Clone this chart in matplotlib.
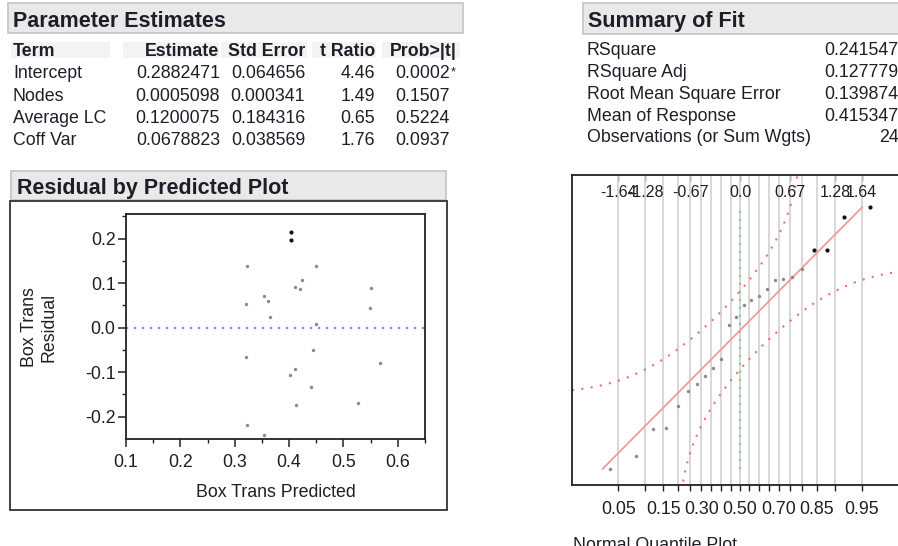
import matplotlib
matplotlib.use("Agg")
import matplotlib.pyplot as plt
from matplotlib.patches import Rectangle
import matplotlib.transforms as mtransforms
import numpy as np
from statistics import NormalDist

plt.rcParams['font.family'] = ['Liberation Sans', 'DejaVu Sans']

# ---------------- data ----------------
param_terms = ["Intercept", "Nodes", "Average LC", "Coff Var"]
param_estimate = ["0.2882471", "0.0005098", "0.1200075", "0.0678823"]
param_stderr = ["0.064656", "0.000341", "0.184316", "0.038569"]
param_tratio = ["4.46", "1.49", "0.65", "1.76"]
param_prob = ["0.0002", "0.1507", "0.5224", "0.0937"]
param_signif = [True, False, False, False]
param_headers = ["Term", "Estimate", "Std Error", "t Ratio", "Prob>|t|"]

fit_labels = ["RSquare", "RSquare Adj", "Root Mean Square Error",
              "Mean of Response", "Observations (or Sum Wgts)"]
fit_values = ["0.241547", "0.127779", "0.139874", "0.415347", "24"]

predicted = [0.404, 0.404, 0.323, 0.450, 0.423, 0.411, 0.420, 0.551,
             0.354, 0.362, 0.320, 0.548, 0.364, 0.450, 0.320, 0.444,
             0.568, 0.411, 0.401, 0.441, 0.527, 0.413, 0.323, 0.353]
residual = [0.214, 0.196, 0.139, 0.139, 0.106, 0.092, 0.087, 0.089,
            0.072, 0.059, 0.052, 0.043, 0.023, 0.009, -0.067, -0.050,
            -0.080, -0.094, -0.107, -0.133, -0.170, -0.173, -0.219, -0.242]
residual_dark = [True, True] + [False] * 22
quantile_dark_top = 4

top_quantile_probs = [0.05, 0.10, 0.25, 0.50, 0.75, 0.90, 0.95]
top_quantile_labels = ["-1.64", "-1.28", "-0.67", "0.0", "0.67", "1.28", "1.64"]
bottom_prob_values = [0.05, 0.15, 0.30, 0.50, 0.70, 0.85, 0.95]
bottom_prob_labels = ["0.05", "0.15", "0.30", "0.50", "0.70", "0.85", "0.95"]
prob_grid = [0.05, 0.10, 0.15, 0.20, 0.25, 0.30, 0.35, 0.40, 0.45, 0.50,
             0.55, 0.60, 0.65, 0.70, 0.75, 0.80, 0.85, 0.90, 0.95]
band_D = 0.2

# ---------------- figure ----------------
W, H = 898, 546
fig = plt.figure(figsize=(W / 100, H / 100), dpi=100)
TXT = "#1e1e28"


def fx(x):
    return x / W


def fy(y):
    return 1 - y / H


def header_box(x0, y0, x1, y1, title, tx, tbase):
    fig.patches.append(Rectangle((fx(x0), fy(y1)), (x1 - x0) / W, (y1 - y0) / H,
                                 transform=fig.transFigure, facecolor="#e9e9e9",
                                 edgecolor="#c4c4c4", lw=1.2))
    fig.text(fx(tx), fy(tbase), title, fontsize=15.5, fontweight="bold",
             color=TXT, ha="left", va="baseline")


FS = 12.8
# Parameter Estimates
header_box(8, 3, 463, 33, "Parameter Estimates", 13, 26.7)
cell_bg = [(11, 110), (123, 219), (221, 307), (312, 376), (382, 460)]
for (a, b) in cell_bg:
    fig.patches.append(Rectangle((fx(a), fy(58)), (b - a) / W, 16 / H,
                                 transform=fig.transFigure, facecolor="#f3f3f3",
                                 edgecolor="none"))
col_right = [None, 219, 305, 375, 457]
hdr_base = 56.5
fig.text(fx(13), fy(hdr_base), param_headers[0], fontsize=FS, fontweight="bold",
         color=TXT, ha="left", va="baseline")
for h, xr in zip(param_headers[1:], col_right[1:]):
    fig.text(fx(xr), fy(hdr_base), h, fontsize=FS, fontweight="bold",
             color=TXT, ha="right", va="baseline")
row_base = [78, 101, 123, 145]
for i, yb in enumerate(row_base):
    fig.text(fx(13), fy(yb), param_terms[i], fontsize=FS, color=TXT, ha="left", va="baseline")
    fig.text(fx(220), fy(yb), param_estimate[i], fontsize=FS, color=TXT, ha="right", va="baseline")
    fig.text(fx(305), fy(yb), param_stderr[i], fontsize=FS, color=TXT, ha="right", va="baseline")
    fig.text(fx(375), fy(yb), param_tratio[i], fontsize=FS, color=TXT, ha="right", va="baseline")
    fig.text(fx(450), fy(yb), param_prob[i], fontsize=FS, color=TXT, ha="right", va="baseline")
    if param_signif[i]:
        fig.text(fx(450.5), fy(yb - 3), "*", fontsize=9, color=TXT, ha="left", va="baseline")

# Summary of Fit
header_box(583, 3, 905, 34, "Summary of Fit", 588, 26.7)
fit_base = [55, 77, 99, 121, 142.5]
for lab, val, yb in zip(fit_labels, fit_values, fit_base):
    fig.text(fx(587), fy(yb), lab, fontsize=FS, color=TXT, ha="left", va="baseline")
    fig.text(fx(898.5), fy(yb), val, fontsize=FS, color=TXT, ha="right", va="baseline")

# Residual by Predicted Plot
header_box(11, 171, 446, 200, "Residual by Predicted Plot", 17, 194.3)
fig.patches.append(Rectangle((fx(10), fy(510)), 437 / W, 309 / H,
                             transform=fig.transFigure, facecolor="none",
                             edgecolor="#333333", lw=1.3))

axr = fig.add_axes([fx(126), fy(439), (425 - 126) / W, (439 - 214) / H])
axr.set_xlim(0.1, 0.65)
axr.set_ylim(-0.25, 0.255)
pred = np.array(predicted)
res = np.array(residual)
dark = np.array(residual_dark)
axr.axhline(0, color="#6f8ff2", lw=1.6, ls=(0, (1, 2.6)))
axr.scatter(pred[~dark], res[~dark], s=6, color="#8a8a8a", lw=0, zorder=3)
axr.scatter(pred[dark], res[dark], s=9, color="#111111", lw=0, zorder=3)
axr.set_xticks([0.1, 0.2, 0.3, 0.4, 0.5, 0.6])
axr.set_xticks([0.15, 0.25, 0.35, 0.45, 0.55, 0.65], minor=True)
axr.set_yticks([-0.2, -0.1, 0.0, 0.1, 0.2])
axr.set_yticks([-0.15, -0.05, 0.05, 0.15, 0.25], minor=True)
axr.set_xticklabels(["0.1", "0.2", "0.3", "0.4", "0.5", "0.6"])
axr.set_yticklabels(["-0.2", "-0.1", "0.0", "0.1", "0.2"])
axr.tick_params(which="major", length=5.5, width=1.1, labelsize=12.8, colors="#222222",
                labelcolor=TXT)
axr.tick_params(axis="y", which="major", pad=2)
axr.tick_params(axis="x", which="major", pad=5)
axr.tick_params(which="minor", length=3, width=1.0, colors="#222222")
for sp in axr.spines.values():
    sp.set_linewidth(1.3)
    sp.set_color("#222222")
fig.text(fx(39), fy(327), "Box Trans\nResidual", rotation=90, fontsize=12.8,
         color=TXT, ha="center", va="center", multialignment="center", linespacing=1.2)
fig.text(fx(275.5), fy(496.7), "Box Trans Predicted", fontsize=12.8, color=TXT,
         ha="center", va="baseline")

# Normal Quantile Plot
nd = NormalDist()
axq = fig.add_axes([fx(572), fy(485), (908 - 572) / W, (485 - 175) / H])
axq.set_xlim(-2.27, 2.27)
axq.set_ylim(-0.27, 0.27)
for p in prob_grid:
    axq.axvline(nd.inv_cdf(p), color="#d4d4d4", lw=1.3, zorder=1)
rs = np.sort(res)
n = len(rs)
zq = np.array([nd.inv_cdf((i + 1) / (n + 1)) for i in range(n)])
m = rs.mean()
s = rs.std(ddof=1)
axq.plot([0, 0], [rs.min(), rs.max()], color="#86cf86", lw=1.6, ls=(0, (1, 2.6)), zorder=2)
zg = np.linspace(-2.27, 2.27, 3000)
pg = np.array([nd.cdf(z) for z in zg])
up = np.array([m + s * nd.inv_cdf(p + band_D) if p + band_D < 0.99999 else np.nan for p in pg])
lo = np.array([m + s * nd.inv_cdf(p - band_D) if p - band_D > 0.00001 else np.nan for p in pg])
axq.plot(zg, up, color="#f07070", lw=1.5, ls=(0, (1, 3.5)), zorder=2)
axq.plot(zg, lo, color="#f07070", lw=1.5, ls=(0, (1, 3.5)), zorder=2)
z0, z1 = (rs.min() - m) / s, (rs.max() - m) / s
axq.plot([z0, z1], [m + s * z0, m + s * z1], color="#f29a9a", lw=1.3, zorder=2)
axq.scatter(zq[:-quantile_dark_top], rs[:-quantile_dark_top], s=6, color="#8a8a8a", lw=0, zorder=3)
axq.scatter(zq[-quantile_dark_top:], rs[-quantile_dark_top:], s=9, color="#111111", lw=0, zorder=3)
axq.set_yticks([])
axq.set_xticks([nd.inv_cdf(p) for p in prob_grid])
axq.set_xticklabels([])
axq.tick_params(axis="x", length=4, width=1.0, colors="#222222")
axq.spines["right"].set_visible(False)
for k in ["left", "top", "bottom"]:
    axq.spines[k].set_linewidth(1.3)
    axq.spines[k].set_color("#222222")
sec = axq.secondary_xaxis("top")
sec.set_xticks([nd.inv_cdf(p) for p in top_quantile_probs])
sec.set_xticklabels([])
sec.tick_params(direction="in", length=4, width=1.0, colors="#222222")
sec.spines["top"].set_visible(False)
trans_top = mtransforms.blended_transform_factory(axq.transData, fig.transFigure)
for p, lab in zip(top_quantile_probs, top_quantile_labels):
    axq.text(nd.inv_cdf(p), fy(196.7), lab, transform=trans_top, fontsize=11.5,
             color=TXT, ha="center", va="baseline", clip_on=False, zorder=4)
for p, lab in zip(bottom_prob_values, bottom_prob_labels):
    axq.text(nd.inv_cdf(p), fy(514.3), lab, transform=trans_top, fontsize=12.8,
             color=TXT, ha="center", va="baseline", clip_on=False)
fig.text(fx(573), fy(537), "Normal Quantile Plot", fontsize=12.8, color=TXT,
         ha="left", va="top")

fig.savefig("out.png", dpi=100)
